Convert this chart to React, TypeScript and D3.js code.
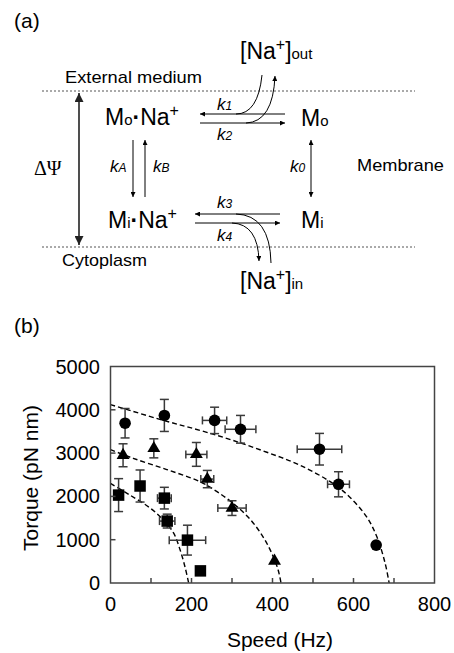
import React from 'react';
import * as d3 from 'd3';

const W = 454;
const H = 653;
const SANS = 'Liberation Sans, Arial, Helvetica, sans-serif';

// panel (b): speed (Hz), torque (pN nm) and their error bars
const circleSpeed = [36, 133, 257, 321, 516, 563, 656];
const circleTorque = [3690, 3870, 3755, 3550, 3090, 2280, 875];
const circleSpeedErr = [0, 0, 30, 38, 55, 27, 0];
const circleTorqueErr = [340, 370, 305, 320, 365, 290, 0];

const triSpeed = [31, 107, 212, 239, 300, 405];
const triTorque = [2950, 3110, 2970, 2400, 1730, 510];
const triSpeedErr = [0, 0, 26, 16, 35, 0];
const triTorqueErr = [265, 220, 275, 200, 170, 0];

const sqSpeed = [20, 73, 133, 140, 190, 222];
const sqTorque = [2030, 2240, 1960, 1430, 990, 280];
const sqSpeedErr = [0, 0, 17, 19, 45, 0];
const sqTorqueErr = [380, 370, 250, 160, 345, 0];

// dashed model curves [speed, torque]
const fitCircle: [number, number][] = [
  [0, 4120], [131, 3755], [221, 3525], [302, 3295], [386, 3020], [468, 2720],
  [549, 2300], [591, 1980], [633, 1520], [658, 1060], [678, 460], [688, 0],
];
const fitTri: [number, number][] = [
  [0, 3080], [56, 2880], [139, 2620], [221, 2340], [263, 2110], [304, 1830],
  [345, 1470], [377, 1060], [398, 690], [414, 300], [421, 0],
];
const fitSq: [number, number][] = [
  [0, 2300], [48, 2030], [98, 1730], [131, 1450], [156, 1150], [172, 760],
  [184, 370], [193, 0],
];

const xTicks = [100, 200, 300, 400, 500, 600, 700];
const xTickLabels = [0, 200, 400, 600, 800];
const yTicks = [1000, 2000, 3000, 4000];
const yTickLabels = [0, 1000, 2000, 3000, 4000, 5000];

const x = d3.scaleLinear().domain([0, 800]).range([110.5, 434.5]);
const y = d3.scaleLinear().domain([0, 5000]).range([583, 366.5]);

const fitLine = d3
  .line<[number, number]>()
  .x(d => x(d[0]))
  .y(d => y(d[1]))
  .curve(d3.curveCatmullRom);

const triPath = d3.symbol(d3.symbolTriangle, 72)() as string;
const sqPath = d3.symbol(d3.symbolSquare, 132)() as string;

function ErrorBars({ sp, tq, se, te }: { sp: number[]; tq: number[]; se: number[]; te: number[] }) {
  return (
    <g stroke="#3a3a3a" strokeWidth={1.5} fill="none">
      {sp.map((s, i) => {
        const cx = x(s);
        const cy = y(tq[i]);
        const parts: JSX.Element[] = [];
        if (te[i] > 0) {
          const y1 = y(tq[i] + te[i]);
          const y2 = y(tq[i] - te[i]);
          parts.push(<line key="v" x1={cx} x2={cx} y1={y1} y2={y2} />);
          parts.push(<line key="vt" x1={cx - 4.5} x2={cx + 4.5} y1={y1} y2={y1} />);
          parts.push(<line key="vb" x1={cx - 4.5} x2={cx + 4.5} y1={y2} y2={y2} />);
        }
        if (se[i] > 0) {
          const x1 = x(s - se[i]);
          const x2 = x(s + se[i]);
          parts.push(<line key="h" x1={x1} x2={x2} y1={cy} y2={cy} />);
          parts.push(<line key="hl" x1={x1} x2={x1} y1={cy - 4} y2={cy + 4} />);
          parts.push(<line key="hr" x1={x2} x2={x2} y1={cy - 4} y2={cy + 4} />);
        }
        return <g key={i}>{parts}</g>;
      })}
    </g>
  );
}

function Diagram() {
  const big = 23;
  const small = 15;
  const kFont = { fontStyle: 'italic' as const, fontSize: 17 };
  return (
    <g fontFamily={SANS} fill="#000">
      <defs>
        <marker id="ah" viewBox="0 0 10 10" refX={10} refY={5} markerWidth={7} markerHeight={5}
          markerUnits="userSpaceOnUse" orient="auto-start-reverse">
          <path d="M0,0 L10,5 L0,10 z" fill="#000" />
        </marker>
        <marker id="ahBig" viewBox="0 0 10 10" refX={10} refY={5} markerWidth={11} markerHeight={9}
          markerUnits="userSpaceOnUse" orient="auto-start-reverse">
          <path d="M0,0 L10,5 L0,10 z" fill="#222" />
        </marker>
      </defs>

      <text x={14} y={28} fontSize={21}>(a)</text>

      {/* membrane boundaries */}
      <line x1={42} x2={415} y1={91} y2={91} stroke="#555" strokeDasharray="2,2" />
      <line x1={42} x2={415} y1={247} y2={247} stroke="#555" strokeDasharray="2,2" />
      <text x={65} y={83} fontSize={17} textLength={137} lengthAdjust="spacingAndGlyphs">External medium</text>
      <text x={62} y={266} fontSize={17} textLength={85} lengthAdjust="spacingAndGlyphs">Cytoplasm</text>
      <text x={357} y={171} fontSize={17} textLength={87} lengthAdjust="spacingAndGlyphs">Membrane</text>

      {/* membrane potential */}
      <line x1={79} x2={79} y1={245} y2={93} stroke="#222" strokeWidth={1.6}
        markerStart="url(#ahBig)" markerEnd="url(#ahBig)" />
      <text x={34} y={175} fontSize={20} fontFamily="Liberation Serif, Times New Roman, serif">ΔΨ</text>

      {/* states */}
      <text x={240} y={59} fontSize={big}>
        [Na<tspan fontSize={16} dy={-9}>+</tspan><tspan dy={9}>]</tspan><tspan fontSize={small}>out</tspan>
      </text>
      <text x={105} y={125} fontSize={big}>
        M<tspan fontSize={small}>o</tspan><tspan fontWeight="bold">·</tspan><tspan>Na</tspan>
        <tspan fontSize={16} dy={-9}>+</tspan>
      </text>
      <text x={301} y={126} fontSize={big}>M<tspan fontSize={small}>o</tspan></text>
      <text x={108} y={228} fontSize={big}>
        M<tspan fontSize={small}>i</tspan><tspan fontWeight="bold">·</tspan><tspan>Na</tspan>
        <tspan fontSize={16} dy={-9}>+</tspan>
      </text>
      <text x={301} y={228} fontSize={big}>M<tspan fontSize={small}>i</tspan></text>
      <text x={240} y={289} fontSize={big}>
        [Na<tspan fontSize={16} dy={-9}>+</tspan><tspan dy={9}>]</tspan><tspan fontSize={small}>in</tspan>
      </text>

      {/* transitions */}
      <g stroke="#000" strokeWidth={1} fill="none">
        <line x1={285} x2={200} y1={114} y2={114} markerEnd="url(#ah)" />
        <line x1={200} x2={285} y1={123} y2={123} markerEnd="url(#ah)" />
        <path d="M262,75 Q258,114 236,114" />
        <path d="M246,123 Q273,122 275,76" markerEnd="url(#ah)" />

        <line x1={133} x2={133} y1={140} y2={197} markerEnd="url(#ah)" />
        <line x1={145} x2={145} y1={197} y2={140} markerEnd="url(#ah)" />
        <line x1={311} x2={311} y1={140} y2={197} markerStart="url(#ah)" markerEnd="url(#ah)" />

        <line x1={280} x2={195} y1={214} y2={214} markerEnd="url(#ah)" />
        <line x1={195} x2={280} y1={223} y2={223} markerEnd="url(#ah)" />
        <path d="M236,214 Q270,215 271,263" />
        <path d="M232,223 Q258,224 259,261" markerEnd="url(#ah)" />
      </g>

      <text x={217} y={110} {...kFont}>k<tspan fontSize={12}>1</tspan></text>
      <text x={217} y={140} {...kFont}>k<tspan fontSize={12}>2</tspan></text>
      <text x={217} y={208} {...kFont}>k<tspan fontSize={12}>3</tspan></text>
      <text x={217} y={241} {...kFont}>k<tspan fontSize={12}>4</tspan></text>
      <text x={110} y={172} {...kFont}>k<tspan fontSize={12}>A</tspan></text>
      <text x={153} y={172} {...kFont}>k<tspan fontSize={12}>B</tspan></text>
      <text x={290} y={172} {...kFont}>k<tspan fontSize={12}>0</tspan></text>
    </g>
  );
}

function Chart() {
  const [x0, x1] = x.range();
  const [y0, y1] = y.range();
  return (
    <g fontFamily={SANS} fill="#000">
      <text x={14} y={333} fontSize={21}>(b)</text>

      {/* dashed fits */}
      <g fill="none" stroke="#000" strokeWidth={1.4} strokeDasharray="5,3">
        <path d={fitLine(fitCircle) || ''} />
        <path d={fitLine(fitTri) || ''} />
        <path d={fitLine(fitSq) || ''} />
      </g>

      <ErrorBars sp={circleSpeed} tq={circleTorque} se={circleSpeedErr} te={circleTorqueErr} />
      <ErrorBars sp={triSpeed} tq={triTorque} se={triSpeedErr} te={triTorqueErr} />
      <ErrorBars sp={sqSpeed} tq={sqTorque} se={sqSpeedErr} te={sqTorqueErr} />

      {circleSpeed.map((s, i) => (
        <circle key={'c' + i} cx={x(s)} cy={y(circleTorque[i])} r={5.8} fill="#000" />
      ))}
      {triSpeed.map((s, i) => (
        <path key={'t' + i} d={triPath} transform={`translate(${x(s)},${y(triTorque[i])})`} fill="#000" />
      ))}
      {sqSpeed.map((s, i) => (
        <path key={'s' + i} d={sqPath} transform={`translate(${x(s)},${y(sqTorque[i])})`} fill="#000" />
      ))}

      {/* frame and ticks */}
      <rect x={x0} y={y1} width={x1 - x0} height={y0 - y1} fill="none" stroke="#444" strokeWidth={1.5} />
      <g stroke="#444" strokeWidth={1.5}>
        {xTicks.map(t => (
          <line key={'xt' + t} x1={x(t)} x2={x(t)} y1={y0} y2={y0 - 5} />
        ))}
        {yTicks.map(t => (
          <line key={'yt' + t} x1={x0} x2={x0 + 5} y1={y(t)} y2={y(t)} />
        ))}
      </g>

      <g fontSize={20}>
        {xTickLabels.map(t => (
          <text key={'xl' + t} x={x(t)} y={611} textAnchor="middle">{t}</text>
        ))}
        {yTickLabels.map(t => (
          <text key={'yl' + t} x={100} y={y(t) + 7} textAnchor="end">{t}</text>
        ))}
      </g>

      <text x={280} y={647} fontSize={21} textAnchor="middle">Speed (Hz)</text>
      <text transform="translate(38,478) rotate(-90)" fontSize={21} textAnchor="middle">Torque (pN nm)</text>
    </g>
  );
}

export default function App() {
  return (
    <svg width={W} height={H} viewBox={`0 0 ${W} ${H}`}
      style={{ position: 'absolute', left: 0, top: 0, background: '#fff' }}>
      <rect width={W} height={H} fill="#fff" />
      <Diagram />
      <Chart />
    </svg>
  );
}
